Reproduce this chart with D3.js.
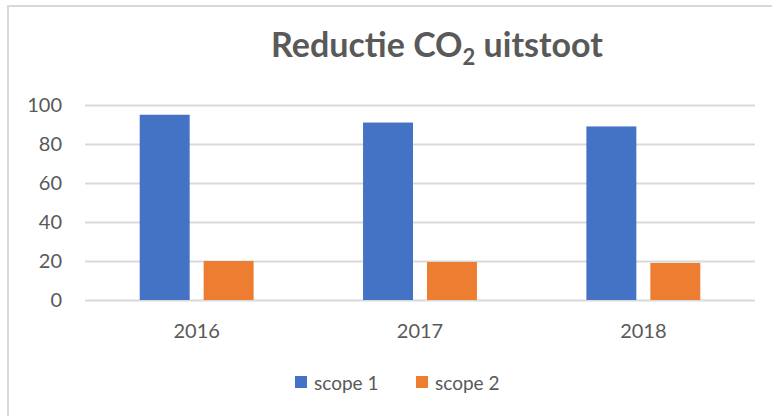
<!DOCTYPE html>
<html><head><meta charset="utf-8">
<script src="https://cdn.jsdelivr.net/npm/d3@7"></script>
<style>body{margin:0;background:#fff;}svg{display:block;font-family:Lato,"Open Sans",sans-serif;}</style>
</head><body>
<svg id="c" width="772" height="416"></svg>
<script>
const years = ["2016","2017","2018"];
const seriesNames = ["scope 1","scope 2"];
const scope1 = [95, 91, 89];
const scope2 = [20, 19.5, 19];
const yTicks = [0,20,40,60,80,100];
const colors = ["#4472C4","#ED7D31"];

(function(){
const svg = d3.select("#c");
svg.append("rect").attr("x",8).attr("y",6).attr("width",800).attr("height",500)
  .attr("fill","#fff").attr("stroke","#d9d9d9").attr("stroke-width",2);

const pL=85, pR=755, pT=105, pB=300;
const y = d3.scaleLinear().domain([0,100]).range([pB,pT]);
const x0 = d3.scaleBand().domain(years).range([pL,pR]).paddingInner(0.49).paddingOuter(0.245);
const x1 = d3.scaleBand().domain(seriesNames).range([0,x0.bandwidth()]).paddingInner(0.219);

const title = svg.append("text").attr("x",437).attr("y",57).attr("text-anchor","middle")
  .attr("fill","#595959").attr("font-size",34).attr("font-weight","bold");
title.append("tspan").text("Reductie CO");
title.append("tspan").text("2").attr("font-size",22).attr("dy",8);
title.append("tspan").text(" uitstoot").attr("dy",-8);

const ya = svg.append("g").attr("transform",`translate(${pL},0)`)
  .call(d3.axisLeft(y).tickValues(yTicks).tickSize(-(pR-pL)).tickPadding(23));
ya.select(".domain").remove();
ya.selectAll(".tick line").attr("stroke","#d9d9d9").attr("stroke-width",2);
ya.selectAll(".tick text").attr("fill","#595959").attr("font-size",20).attr("font-family","Lato,sans-serif");

const xa = svg.append("g").attr("transform",`translate(0,${pB})`)
  .call(d3.axisBottom(x0).tickSize(0).tickPadding(24));
xa.select(".domain").remove();
xa.selectAll(".tick text").attr("fill","#595959").attr("font-size",20).attr("font-family","Lato,sans-serif");

const data = years.map((yr,i)=>({yr, vals:[scope1[i],scope2[i]]}));
const g = svg.append("g").selectAll("g").data(data).join("g")
  .attr("transform",d=>`translate(${x0(d.yr)},0)`);
g.selectAll("rect").data(d=>d.vals.map((v,j)=>({v,s:seriesNames[j],j}))).join("rect")
  .attr("x",d=>x1(d.s)).attr("width",x1.bandwidth())
  .attr("y",d=>y(d.v)).attr("height",d=>y(0)-y(d.v))
  .attr("fill",d=>colors[d.j]);

const leg = svg.append("g");
const lx = [295, 416];
seriesNames.forEach((s,i)=>{
  leg.append("rect").attr("x",lx[i]).attr("y",376).attr("width",12).attr("height",12).attr("fill",colors[i]);
  leg.append("text").attr("x",lx[i]+19).attr("y",390).text(s).attr("fill","#595959").attr("font-size",19);
});
})();
</script>
</body></html>
